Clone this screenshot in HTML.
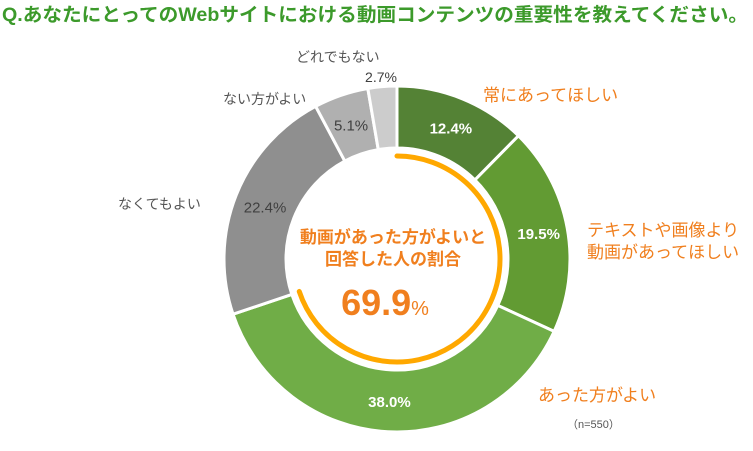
<!DOCTYPE html>
<html><head><meta charset="utf-8">
<style>
body{margin:0;background:#fff;width:753px;height:451px;overflow:hidden;font-family:"Liberation Sans","Noto Sans CJK JP",sans-serif;}
svg{display:block}
</style></head>
<body>
<svg id="chart" width="753" height="451" viewBox="0 0 753 451" xmlns="http://www.w3.org/2000/svg" font-family="'Liberation Sans','Noto Sans CJK JP',sans-serif">
<text x="2" y="21" font-size="19" font-weight="bold" fill="#3c9a2b" textLength="746" lengthAdjust="spacingAndGlyphs">Q.あなたにとってのWebサイトにおける動画コンテンツの重要性を教えてください。</text>
<g id="slices"></g>
<g id="labels"></g>
<text x="393" y="243" font-size="17" font-weight="bold" fill="#f07f1e" text-anchor="middle">動画があった方がよいと</text>
<text x="393" y="265" font-size="17" font-weight="bold" fill="#f07f1e" text-anchor="middle">回答した人の割合</text>
<text x="385" y="315" font-size="36" font-weight="bold" fill="#f07f1e" text-anchor="middle">69.9<tspan font-size="20" font-weight="normal">%</tspan></text>
<text x="567" y="428" font-size="11" fill="#555">（n=550）</text>
</svg>
<script>
const categories = ["常にあってほしい","テキストや画像より動画があってほしい","あった方がよい","なくてもよい","ない方がよい","どれでもない"];
const values = [12.4, 19.5, 38.0, 22.4, 5.1, 2.7];
const valueLabels = ["12.4%","19.5%","38.0%","22.4%","5.1%","2.7%"];
const highlightTotal = 69.9;
const colors = ["#548235","#629b33","#70ad47","#8f8f8f","#b0b0b0","#cccccc"];
const NS="http://www.w3.org/2000/svg";
const cx=397, cy=259, rO=173, rI=111, rA=103;
const total = values.reduce((a,b)=>a+b,0);
function pt(r,frac){const a=frac*2*Math.PI;return [cx+r*Math.sin(a), cy-r*Math.cos(a)];}
const g=document.getElementById('slices'), lg=document.getElementById('labels');
let acc=0;
const labelR=[142,144,142,142,142,142];
values.forEach((v,i)=>{
  const f0=acc/total, f1=(acc+v)/total; acc+=v;
  const [x0,y0]=pt(rO,f0),[x1,y1]=pt(rO,f1),[x2,y2]=pt(rI,f1),[x3,y3]=pt(rI,f0);
  const large=(f1-f0)>0.5?1:0;
  const p=document.createElementNS(NS,'path');
  p.setAttribute('d',`M${x0},${y0}A${rO},${rO} 0 ${large} 1 ${x1},${y1}L${x2},${y2}A${rI},${rI} 0 ${large} 0 ${x3},${y3}Z`);
  p.setAttribute('fill',colors[i]);p.setAttribute('stroke','#fff');p.setAttribute('stroke-width','3');
  
  
  g.appendChild(p);
  if(i<5){
    const [lx,ly]=pt(labelR[i],(f0+f1)/2);
    const t=document.createElementNS(NS,'text');
    t.setAttribute('x',lx);t.setAttribute('y',ly+6);t.setAttribute('text-anchor','middle');
    t.setAttribute('font-size','15');
    if(i<3){t.setAttribute('fill','#fff');t.setAttribute('font-weight','bold');}else{t.setAttribute('fill','#404040');}
    t.textContent=valueLabels[i];
    
    
    lg.appendChild(t);
  }
});
// highlight arc
const fa=highlightTotal/100;
const [ax0,ay0]=pt(rA,0),[ax1,ay1]=pt(rA,fa);
const arc=document.createElementNS(NS,'path');
arc.setAttribute('d',`M${ax0},${ay0}A${rA},${rA} 0 ${fa>0.5?1:0} 1 ${ax1},${ay1}`);
arc.setAttribute('fill','none');arc.setAttribute('stroke','#ffa800');arc.setAttribute('stroke-width','5');arc.setAttribute('stroke-linecap','round');


g.appendChild(arc);
// category labels
const catPos=[[483,101,'start','#f07f1e',17],[587,236,'start','#f07f1e',17],[538,401,'start','#f07f1e',17],[118,209,'start','#555',14],[223,104,'start','#555',14],[296,62,'start','#555',14]];
categories.forEach((c,i)=>{
  const [x,y,anc,col,fs]=catPos[i];
  const t=document.createElementNS(NS,'text');
  t.setAttribute('x',x);t.setAttribute('y',y);t.setAttribute('text-anchor',anc);t.setAttribute('fill',col);t.setAttribute('font-size',fs);
  if(i===1){
    const a=document.createElementNS(NS,'tspan');a.setAttribute('x',x);a.textContent='テキストや画像より';
    const b=document.createElementNS(NS,'tspan');b.setAttribute('x',x);b.setAttribute('dy','22');b.textContent='動画があってほしい';
    t.appendChild(a);t.appendChild(b);
  } else t.textContent=c;
  
  
  lg.appendChild(t);
});
const t5=document.createElementNS(NS,'text');
t5.setAttribute('x',381);t5.setAttribute('y',82);t5.setAttribute('text-anchor','middle');t5.setAttribute('font-size','14');t5.setAttribute('fill','#404040');
t5.textContent=valueLabels[5];


lg.appendChild(t5);
</script>
</body></html>
